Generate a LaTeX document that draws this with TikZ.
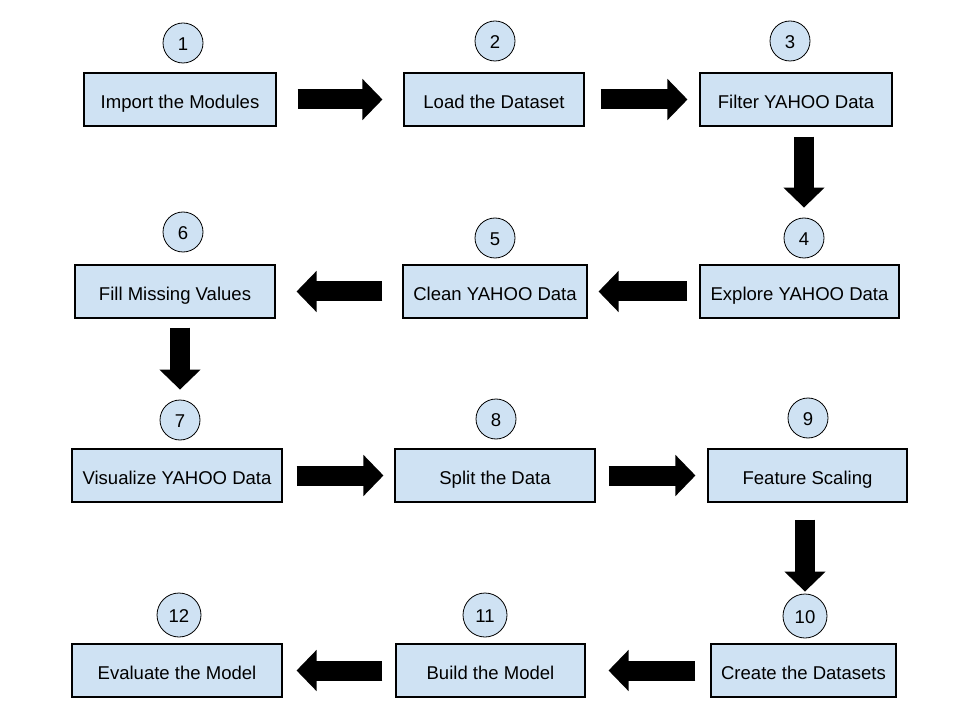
\documentclass[tikz,border=0pt]{standalone}
\usepackage{fontspec}
\setmainfont{Liberation Sans}
\usetikzlibrary{arrows.meta}
\definecolor{boxblue}{HTML}{CFE2F3}

\begin{document}
\begin{tikzpicture}[x=0.75pt,y=-0.75pt,
    font=\fontsize{13.9}{16}\selectfont,
    stepbox/.style={draw=black, fill=boxblue, line width=0.8pt, minimum height=39.75pt, inner sep=0pt, text height=14pt, text depth=0pt},
    numcirc/.style={draw=black, fill=boxblue, line width=0.6pt, circle, minimum size=30pt, inner sep=0pt, text height=11.5pt, text depth=0pt},
    bignum/.style={numcirc, minimum size=33pt},
    bigarrow/.style={line width=15pt, -{Triangle[length=15pt,width=30pt]}}]
    \useasboundingbox (0,0) rectangle (960,720);

    % Row 1
    \node[stepbox, minimum width=144pt] (b1) at (180,99.5) {Import the Modules};
    \node[stepbox, minimum width=135pt] (b2) at (494,99.5) {Load the Dataset};
    \node[stepbox, minimum width=144pt] (b3) at (796,99.5) {Filter YAHOO Data};
    \node[numcirc] (c1) at (183,43) {1};
    \node[numcirc] (c2) at (495,41) {2};
    \node[numcirc] (c3) at (790,41) {3};

    % Row 2
    \node[stepbox, minimum width=149.25pt] (b4) at (799.5,291.5) {Explore YAHOO Data};
    \node[stepbox, minimum width=138pt] (b5) at (495,291.5) {Clean YAHOO Data};
    \node[stepbox, minimum width=150pt] (b6) at (175,291.5) {Fill Missing Values};
    \node[numcirc] (c4) at (804,238) {4};
    \node[numcirc] (c5) at (495,238) {5};
    \node[numcirc] (c6) at (183,232) {6};

    % Row 3
    \node[stepbox, minimum width=157.5pt] (b7) at (177,475.5) {Visualize YAHOO Data};
    \node[stepbox, minimum width=150pt] (b8) at (495,475.5) {Split the Data};
    \node[stepbox, minimum width=149.25pt] (b9) at (807.5,475.5) {Feature Scaling};
    \node[numcirc] (c7) at (180,420) {7};
    \node[numcirc] (c8) at (496,419) {8};
    \node[numcirc] (c9) at (808,418) {9};

    % Row 4
    \node[stepbox, minimum width=138.75pt] (b10) at (803.5,670.5) {Create the Datasets};
    \node[stepbox, minimum width=141.75pt] (b11) at (490.5,670.5) {Build the Model};
    \node[stepbox, minimum width=157.5pt] (b12) at (177,670.5) {Evaluate the Model};
    \node[bignum] (c10) at (805,616) {10};
    \node[bignum] (c11) at (485,615) {11};
    \node[bignum] (c12) at (179,615) {12};

    % Block arrows
    \draw[bigarrow, shorten <=15.75pt, shorten >=15.75pt] (b1.east) -- (b2.west);
    \draw[bigarrow, shorten <=12pt, shorten >=9pt] (b2.east) -- (b3.west);
    \draw[bigarrow, shorten <=7.5pt, shorten >=7.5pt] (b3.south -| c4) -- (c4.north);
    \draw[bigarrow, shorten <=9pt, shorten >=8.25pt] (b4.west) -- (b5.east);
    \draw[bigarrow, shorten <=15pt, shorten >=15.75pt] (b5.west) -- (b6.east);
    \draw[bigarrow, shorten <=6.75pt, shorten >=7.5pt] (b6.south -| c7) -- (c7.north);
    \draw[bigarrow, shorten <=10.5pt, shorten >=8.25pt] (b7.east) -- (b8.west);
    \draw[bigarrow, shorten <=9.75pt, shorten >=9pt] (b8.east) -- (b9.west);
    \draw[bigarrow, shorten <=12.75pt, shorten >=1.5pt] (b9.south -| c10) -- (c10.north);
    \draw[bigarrow, shorten <=11.25pt, shorten >=17.25pt] (b10.west) -- (b11.east);
    \draw[bigarrow, shorten <=9.75pt, shorten >=10.5pt] (b11.west) -- (b12.east);
\end{tikzpicture}
\end{document}
